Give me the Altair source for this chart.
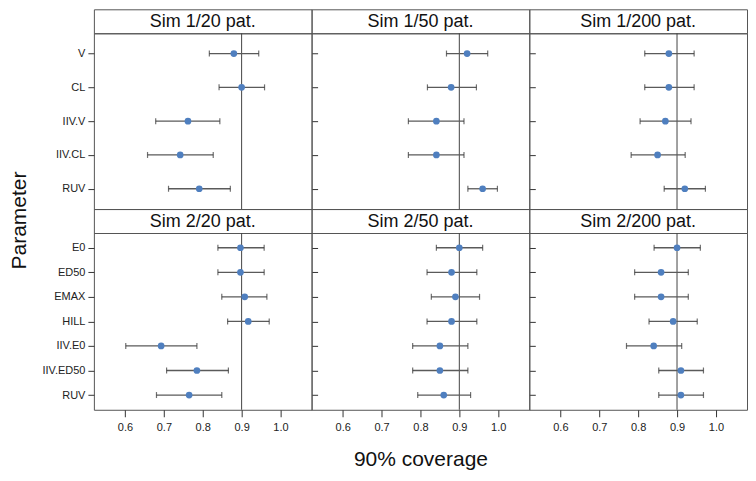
import altair as alt
import pandas as pd

FONT = "Liberation Sans"

# ---- data ----
sims = ["Sim 1", "Sim 2"]
sizes = [20, 50, 200]
params_sim1 = ["V", "CL", "IIV.V", "IIV.CL", "RUV"]
params_sim2 = ["E0", "ED50", "EMAX", "HILL", "IIV.E0", "IIV.ED50", "RUV"]
x_ticks = [0.6, 0.7, 0.8, 0.9, 1.0]
ref_value = [0.9]

est_1_20 = [0.880, 0.900, 0.762, 0.742, 0.791]
lo_1_20 = [0.817, 0.842, 0.679, 0.658, 0.712]
hi_1_20 = [0.944, 0.959, 0.844, 0.827, 0.871]

est_1_50 = [0.920, 0.879, 0.841, 0.841, 0.960]
lo_1_50 = [0.867, 0.818, 0.769, 0.769, 0.922]
hi_1_50 = [0.973, 0.944, 0.912, 0.912, 0.998]

est_1_200 = [0.879, 0.879, 0.870, 0.850, 0.920]
lo_1_200 = [0.817, 0.817, 0.805, 0.782, 0.867]
hi_1_200 = [0.944, 0.944, 0.936, 0.921, 0.973]

est_2_20 = [0.897, 0.897, 0.908, 0.917, 0.693, 0.785, 0.765]
lo_2_20 = [0.839, 0.839, 0.849, 0.864, 0.602, 0.707, 0.681]
hi_2_20 = [0.958, 0.958, 0.965, 0.971, 0.785, 0.866, 0.849]

est_2_50 = [0.900, 0.880, 0.890, 0.880, 0.850, 0.850, 0.860]
lo_2_50 = [0.841, 0.817, 0.828, 0.817, 0.780, 0.780, 0.793]
hi_2_50 = [0.960, 0.945, 0.952, 0.945, 0.922, 0.922, 0.929]

est_2_200 = [0.900, 0.859, 0.859, 0.890, 0.840, 0.910, 0.910]
lo_2_200 = [0.841, 0.791, 0.791, 0.828, 0.770, 0.853, 0.853]
hi_2_200 = [0.960, 0.929, 0.929, 0.952, 0.912, 0.968, 0.968]

# ---- assemble table ----
series = {
    ("Sim 1", 20): (est_1_20, lo_1_20, hi_1_20),
    ("Sim 1", 50): (est_1_50, lo_1_50, hi_1_50),
    ("Sim 1", 200): (est_1_200, lo_1_200, hi_1_200),
    ("Sim 2", 20): (est_2_20, lo_2_20, hi_2_20),
    ("Sim 2", 50): (est_2_50, lo_2_50, hi_2_50),
    ("Sim 2", 200): (est_2_200, lo_2_200, hi_2_200),
}
param_lists = {"Sim 1": params_sim1, "Sim 2": params_sim2}

rows = []
for (sim, n), (e, l, h) in series.items():
    for p, ev, lv, hv in zip(param_lists[sim], e, l, h):
        rows.append({"sim": sim, "n": n, "param": p, "est": ev, "lo": lv, "hi": hv})
df = pd.DataFrame(rows)

W = 218
SH = 24
PH = [176, 177]
XDOM = [0.52, 1.08]
BAR_COL = "#5a5a5a"
PT_COL = "#4f7fbf"


def strip(label):
    return (
        alt.Chart(pd.DataFrame({"label": [label]}))
        .mark_text(fontSize=18, font=FONT, color="#111", baseline="middle")
        .encode(text="label:N", x=alt.value(W / 2), y=alt.value(SH / 2 + 1))
        .properties(width=W, height=SH)
    )


def panel(ri, ci):
    sim = sims[ri]
    n = sizes[ci]
    params = param_lists[sim]
    d = df[(df.sim == sim) & (df.n == n)]
    xscale = alt.Scale(domain=XDOM, nice=False, zero=False)
    yscale = alt.Scale(domain=params, type="point", padding=0.6)

    if ri == 1:
        xa = dict(values=x_ticks, format=".1f", tickSize=7, labelPadding=5,
                  labelFontSize=11, labelColor="#222", tickColor="#333",
                  grid=False, domain=False)
        if ci == 1:
            xa.update(title="90% coverage", titleFontSize=21, titleFontWeight="normal",
                      titleColor="#111", titleBaseline="alphabetic", titleY=56)
        else:
            xa.update(title=None)
        xaxis = alt.Axis(**xa)
    else:
        xaxis = None

    if ci == 0:
        ya = dict(orient="left", tickSize=6, labelPadding=3, labelFontSize=11,
                  labelColor="#222", tickColor="#333", grid=False, domain=False)
        if ri == 0:
            ya.update(title="Parameter", titleFontSize=21, titleFontWeight="normal",
                      titleColor="#111", titleAngle=270, titleAlign="center",
                      titleBaseline="alphabetic", titleX=-68, titleY=187)
        else:
            ya.update(title=None)
        yleft = alt.Axis(**ya)
    else:
        yleft = None

    if ci < 2:
        yright = alt.Axis(orient="right", labels=False, tickSize=6, tickColor="#333",
                          grid=False, domain=False, title=None)
    else:
        yright = None

    base = alt.Chart(d)
    refl = (
        alt.Chart(pd.DataFrame({"ref": ref_value}))
        .mark_rule(color="#444", strokeWidth=1)
        .encode(x=alt.X("ref:Q", scale=xscale, axis=xaxis))
    )
    bars = base.mark_rule(color=BAR_COL, strokeWidth=1.3).encode(
        x=alt.X("lo:Q", scale=xscale, axis=xaxis),
        x2="hi:Q",
        y=alt.Y("param:N", scale=yscale, sort=params, axis=yleft),
    )
    caps = base.transform_fold(["lo", "hi"], as_=["end", "val"]).mark_tick(
        orient="vertical", size=6, thickness=1.2, color="#333"
    ).encode(
        x=alt.X("val:Q", scale=xscale, axis=xaxis),
        y=alt.Y("param:N", scale=yscale, sort=params, axis=None),
    )
    pts = base.mark_circle(size=45, color=PT_COL, opacity=1).encode(
        x=alt.X("est:Q", scale=xscale, axis=xaxis),
        y=alt.Y("param:N", scale=yscale, sort=params, axis=yright),
    )
    return (
        alt.layer(refl, bars, caps, pts)
        .resolve_axis(y="independent")
        .properties(width=W, height=PH[ri])
    )


cells = []
for ri, sim in enumerate(sims):
    for n in sizes:
        cells.append(strip(f"{sim}/{n} pat."))
    for ci in range(len(sizes)):
        cells.append(panel(ri, ci))

chart = (
    alt.concat(*cells, columns=3, spacing=0, bounds="flush")
    .properties(padding={"left": 0, "top": 0, "right": 0, "bottom": 0})
    .configure_view(stroke="#555", strokeWidth=1)
    .configure_axis(labelFont=FONT, titleFont=FONT)
)

chart.save("out.html", embed_options={"renderer": "svg", "actions": False})
